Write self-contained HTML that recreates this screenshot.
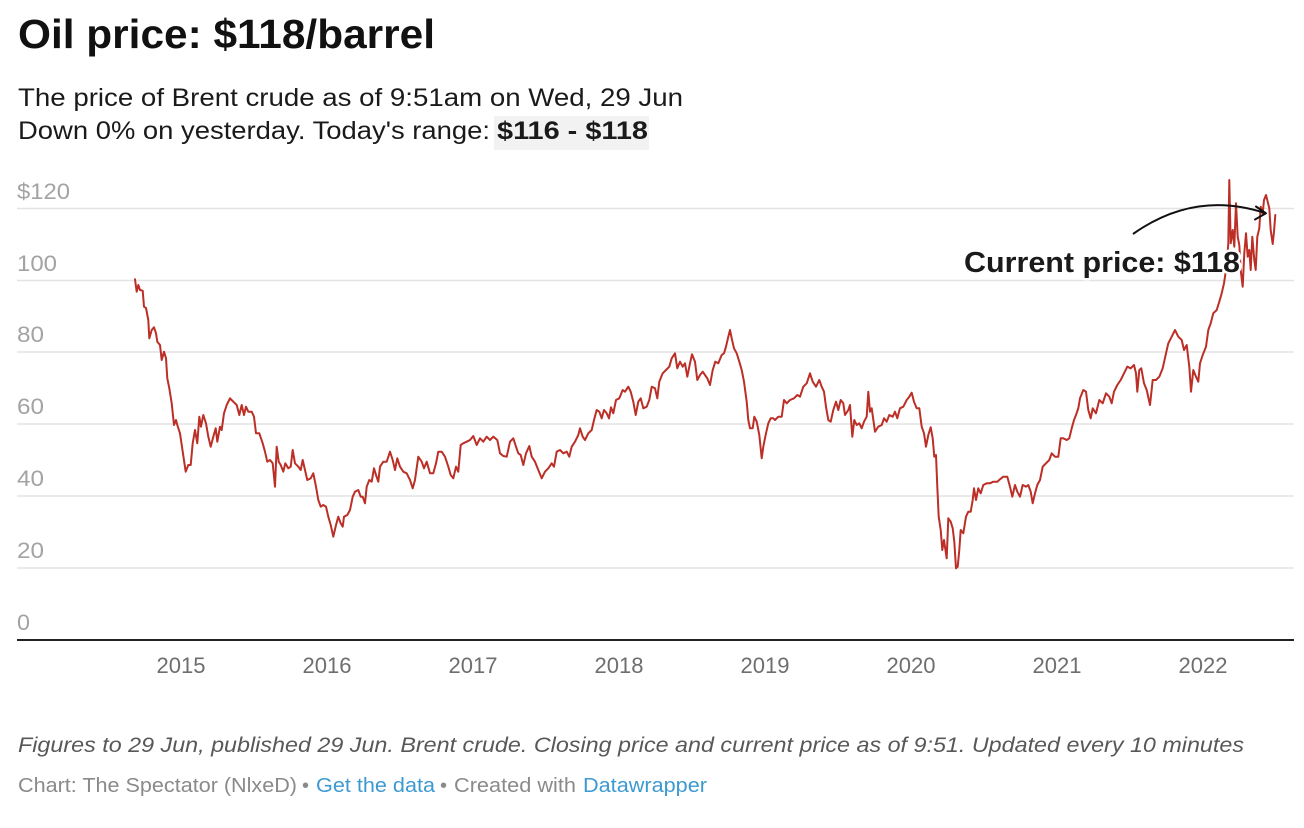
<!DOCTYPE html>
<html>
<head>
<meta charset="utf-8">
<style>
html,body{margin:0;padding:0;background:#fff;}
svg{display:block;}
text{font-family:"Liberation Sans",Arial,sans-serif;}
</style>
</head>
<body>
<svg width="1304" height="828" viewBox="0 0 1304 828" xmlns="http://www.w3.org/2000/svg">
<rect x="0" y="0" width="1304" height="828" fill="#fff"/>

<!-- Title -->
<text x="18" y="48" font-size="41" font-weight="bold" fill="#111" textLength="417" lengthAdjust="spacingAndGlyphs">Oil price: $118/barrel</text>

<!-- Subtitle -->
<text x="18" y="106" font-size="25" fill="#1a1a1a" textLength="665" lengthAdjust="spacingAndGlyphs">The price of Brent crude as of 9:51am on Wed, 29 Jun</text>
<rect x="494" y="116" width="155" height="34" fill="#f2f2f2"/>
<text x="18" y="139" font-size="25" fill="#1a1a1a" textLength="472" lengthAdjust="spacingAndGlyphs">Down 0% on yesterday. Today's range:</text>
<text x="497" y="139" font-size="25" font-weight="bold" fill="#1a1a1a" textLength="151" lengthAdjust="spacingAndGlyphs">$116 - $118</text>

<!-- Gridlines -->
<g stroke="#e3e3e3" stroke-width="1.6">
<line x1="17" y1="208.5" x2="1294" y2="208.5"/>
<line x1="17" y1="280.5" x2="1294" y2="280.5"/>
<line x1="17" y1="352" x2="1294" y2="352"/>
<line x1="17" y1="424" x2="1294" y2="424"/>
<line x1="17" y1="496" x2="1294" y2="496"/>
<line x1="17" y1="568" x2="1294" y2="568"/>
</g>

<!-- Y labels -->
<g font-size="22" fill="#a3a3a3">
<text x="17" y="199" textLength="53" lengthAdjust="spacingAndGlyphs">$120</text>
<text x="17" y="271" textLength="40" lengthAdjust="spacingAndGlyphs">100</text>
<text x="17" y="342" textLength="27" lengthAdjust="spacingAndGlyphs">80</text>
<text x="17" y="414" textLength="27" lengthAdjust="spacingAndGlyphs">60</text>
<text x="17" y="486" textLength="27" lengthAdjust="spacingAndGlyphs">40</text>
<text x="17" y="558" textLength="27" lengthAdjust="spacingAndGlyphs">20</text>
<text x="17" y="630" textLength="13" lengthAdjust="spacingAndGlyphs">0</text>
</g>

<!-- Axis line -->
<line x1="17" y1="640" x2="1294" y2="640" stroke="#222" stroke-width="2"/>

<!-- X labels -->
<g font-size="22" fill="#6e6e6e" text-anchor="middle">
<text x="181" y="673">2015</text>
<text x="327" y="673">2016</text>
<text x="473" y="673">2017</text>
<text x="619" y="673">2018</text>
<text x="765" y="673">2019</text>
<text x="911" y="673">2020</text>
<text x="1057" y="673">2021</text>
<text x="1203" y="673">2022</text>
</g>

<!-- Series -->
<polyline fill="none" stroke="#bb2f27" stroke-width="2" stroke-linejoin="round" stroke-linecap="round" points="135,279.3 136.7,291.7 138.3,285 140,290 142.7,290.7 144,306.7 146,308 148.3,320 149.3,338.3 151.7,330 154,327.3 156,333.3 157.3,341.7 160,345 161.7,360 164,351.7 166,358.3 167.3,378.3 169.3,388.3 171.7,403.3 174,425 176,420 177.3,425 180,433.3 182.7,451.7 185.7,471.7 188.3,465 190.7,465 192.7,443.3 195,430 197.3,443.3 199.3,416.7 201,426.7 203.3,415 206,423.3 208.3,436.7 210.7,446.7 213.3,436.7 215.7,428.3 217.3,441.7 220,426.7 221.7,430 224,413.3 226.7,405 230,398.3 233.3,401.7 236.7,405 239.3,415 241.7,405 244,415 246,406.7 248.3,411.7 251.7,411.7 254,416.7 256,433.3 259.3,433.3 262.7,443.3 265,451.7 267.3,461.7 270,460 272.7,463.3 275,486.7 276.7,446.7 278.7,461.7 280.7,465 283.3,471.7 285.3,463.3 288.3,468.3 290.7,466.7 292.7,450 295,463.3 298.3,466.7 300.7,470 302.7,460 305,470 307.3,480 310.7,478.3 313.3,473.3 316,486.7 318.3,500 320.7,506.7 323.3,505 326,506.7 328.3,516.7 330.7,525 333.3,536.7 336,525 338.3,516.7 340.7,523.3 342.7,526.7 344,516.7 347.3,515 350,510 352.7,496.7 355,491.7 358.3,490 360.7,496.7 362.7,496.7 365,503.3 366.7,486.7 369.3,480 371.7,481.7 374,468.3 376,475 378.3,481.7 380,466.7 383.3,461.7 386.7,461.7 390,451.7 392.7,460 395,470 397.3,458.3 400,466.7 403.3,471.7 406.7,473.3 410,480 412.7,488.3 415,480 418.3,456.7 421.7,461.7 424,468.3 426.7,461.7 430,473.3 433.3,473.3 436,463.3 438.3,451.7 441.7,451.7 445,456.7 448.3,466.7 450.7,475 453.3,478.3 456,466.7 458.3,471.7 460.7,445 463.3,443.3 466.7,441.7 470,440 473.3,436 476.7,445 480,438.3 483.3,441.7 486.7,436.7 490,440 493.3,436.7 497.3,440 500,453.3 503.3,456 506.7,456.7 510,441.7 513.3,438.3 516,446.7 518.3,453.3 520.7,455 523.3,465 526,453.3 529.3,446 531.7,456.7 535,461.7 538.3,470 541.7,478.3 545,471.7 548.3,468.3 551.7,463.3 554,466.7 556.7,451.7 560,450 563.3,453.3 566.7,451.7 569.3,456.7 571.7,446.7 575,441.7 578.3,435 580,428.3 582.7,436.7 585,440 588.3,433.3 591.7,430 594,420 596.7,410 599.3,411.7 601.7,418.3 604,410 606.7,413.3 609,418.3 611,407.3 613.3,413.3 616,400 619.3,398.3 622.7,390 625,391.7 628.3,386.7 630.7,391.7 633.3,401.7 635.7,415 638.3,401.7 640.7,398.3 643.3,408.3 646.7,406.7 649.3,400 651.7,386.7 655,388.3 657.3,398.3 659.3,381.7 662.7,373.3 666,370 669.3,366.7 671.7,358.3 675,353.3 677.3,368.3 680,361.7 682.7,366.7 685,363.3 687.3,376.7 690,363.3 692,354.3 695,361.7 697.3,380 700,375 702.7,371.7 705,375 707.3,378.3 710,385 712.7,370 715.3,361.7 718.3,363.3 721.7,355 724,353.3 726,346.7 728.3,336.7 730,330 731.7,338.3 734,348.3 736.7,353.3 739.3,361.7 741.7,370 744,381.7 746.7,401.7 748.3,420 750,428.3 752.7,428.3 754.3,416.7 756.7,421.7 759.3,435 761.7,458.3 763.3,446.7 766,433.3 768.3,423.3 770.7,418.3 773.3,418.3 775,420 778.3,416.7 781.7,416.7 784,400 786.7,403.3 790,400 794,398.3 797.3,395 800,396.7 803.3,386.7 806.7,383.3 810,373.3 812.7,381.7 816,386.7 819.3,380 821.7,386.7 824,391.7 826,406.7 828.3,420 830.7,421.7 833.3,410 836,401.7 838.3,410 840.7,400 843.3,403.3 845,415 848.3,410 850,405 852.3,436.7 854.3,420 856.7,425 859.3,423.3 861.7,428.3 864,421.7 866.7,416.7 868.3,391.7 870,411.7 871.7,408.3 875,431.7 878.3,426.7 881.7,425 884,418.3 886.7,421.7 889.3,415 892.7,416.7 895,411.7 897.3,418.3 900,408.3 903.3,406.7 906.7,400 909.3,396.7 911.7,392.7 914,401.7 916.7,408.3 919.3,408.3 921.7,426.7 924,433.3 926,446.7 928.3,435 930.7,427.3 932.7,438.3 934.3,456.7 936,455 937.3,486.7 938.7,516.7 940.7,530 942.3,550 944,540 946.7,558.3 948.3,518.3 950.7,521.7 952.7,528.3 954.3,541.7 956,568.3 957.7,566.7 959.3,550 960.7,530 963.3,533.3 966,516.7 968.3,511.7 970.7,511.7 972.7,500 974,488.3 976,500 978.3,488.3 980.7,493.3 983.3,485 986.7,483.3 990,483.3 993.3,481.7 997.3,481.7 1000,479.3 1003.3,476.7 1007.3,476.7 1010,486.7 1012.3,496.7 1015,485 1017.3,491.7 1020,496.7 1022.7,485 1026,486.7 1028.3,485 1030.7,491.7 1032.7,503.3 1035,493.3 1037.3,485 1040,480 1042.7,466.7 1046,463.3 1049.3,460 1051.7,453.3 1055,456.7 1058.3,456.7 1060.7,438.3 1063.3,438.3 1066.7,440 1069.3,438.3 1071.7,428.3 1074,420 1076,415 1078.3,408.3 1080,398.3 1083.3,390 1086,391.7 1088.3,410 1090.7,418.3 1092.7,408.3 1096,413.3 1099.3,400 1102.7,403.3 1106,393.3 1109.3,396.7 1111.7,403.3 1114,391.7 1117.3,385 1120.7,380 1124,373.3 1127.3,366.7 1130.7,368.3 1134,365 1136,373.3 1137.3,391.7 1139.3,370 1141.3,368.3 1144,383.3 1146.7,390 1150,405 1152.7,380 1156,380 1159.3,376.7 1162.7,368.3 1166,353.3 1168.3,343.3 1171.7,336.7 1175,330 1178.3,336.7 1181.7,340 1184,350 1186.7,345 1189.3,366.7 1191,391.7 1193.3,370 1196,376.7 1198.3,381.7 1200,363.3 1202.7,355 1206,346.7 1208.3,330 1210.7,323.3 1213.3,313.3 1216.7,310 1219.3,301.7 1221.7,293.3 1224,283.3 1226,270 1227.3,256.7 1228.3,243.3 1229.3,180 1230.7,243.3 1232.7,230 1234.3,246.7 1236,203.3 1237.7,236.7 1239.3,245 1240.7,270 1242.7,286.7 1244.3,253.3 1246,233.3 1247.7,256.7 1249.3,250 1250.7,270 1252.3,236.7 1254.3,260 1255.7,270 1257.3,236.7 1259.3,228.3 1260.7,206.7 1262.7,213.3 1264,200 1266,195 1267.7,201.7 1269.3,208.3 1270.7,230 1272.7,244 1274,231.7 1275.3,215"/>

<!-- Annotation -->
<path d="M1133,234 Q1195,190 1265,213" fill="none" stroke="#111" stroke-width="2"/>
<path d="M1256,206.5 L1266,213.3 L1255,219.5" fill="none" stroke="#111" stroke-width="2" stroke-linejoin="round" stroke-linecap="round"/>
<text x="964" y="272" font-size="29" font-weight="bold" fill="#1a1a1a" stroke="#fff" stroke-width="5" stroke-linejoin="round" paint-order="stroke" textLength="276" lengthAdjust="spacingAndGlyphs">Current price: $118</text>

<!-- Footer -->
<text x="18" y="752" font-size="21" font-style="italic" fill="#585858" textLength="1226" lengthAdjust="spacingAndGlyphs">Figures to 29 Jun, published 29 Jun. Brent crude. Closing price and current price as of 9:51. Updated every 10 minutes</text>
<g font-size="20">
<text x="18" y="792" fill="#8a8a8a" textLength="279" lengthAdjust="spacingAndGlyphs">Chart: The Spectator (NlxeD)</text>
<text x="302" y="792" fill="#8a8a8a">•</text>
<text x="316" y="792" fill="#3d9ad1" textLength="119" lengthAdjust="spacingAndGlyphs">Get the data</text>
<text x="440" y="792" fill="#8a8a8a">•</text>
<text x="454" y="792" fill="#8a8a8a" textLength="122" lengthAdjust="spacingAndGlyphs">Created with</text>
<text x="583" y="792" fill="#3d9ad1" textLength="124" lengthAdjust="spacingAndGlyphs">Datawrapper</text>
</g>
</svg>
</body>
</html>
